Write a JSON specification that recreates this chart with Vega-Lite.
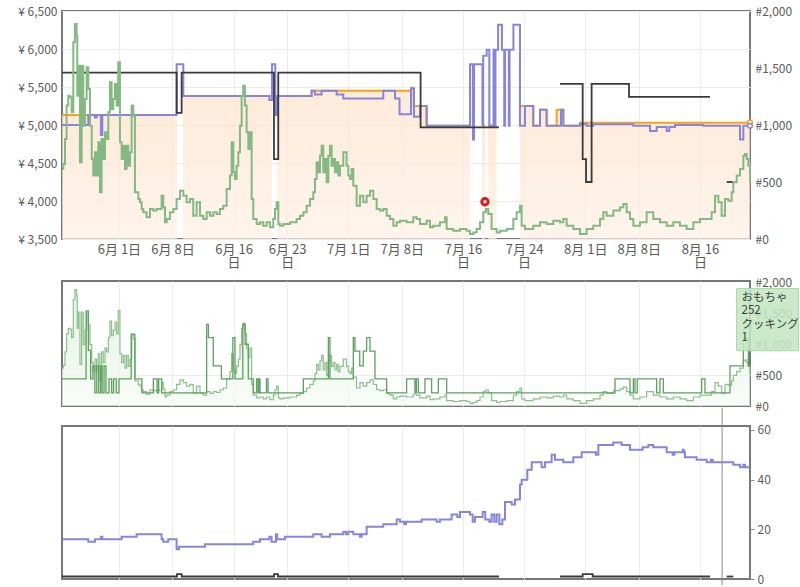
{
"$schema":"https://vega.github.io/schema/vega-lite/v6.json",
"autosize":{"type":"pad"},
"padding":{"left":16,"top":4,"right":0,"bottom":0},
"bounds":"flush",
"spacing":42,
"datasets":{
"amazon":[{"day":-7.45,"price":5130,"seg":1},{"day":7.59,"price":5130,"seg":1},
{"day":8.37,"price":5380,"seg":2},{"day":20.0,"price":5380,"seg":2},
{"day":20.67,"price":5380,"seg":3},{"day":25.2,"price":5450,"seg":3},{"day":38.2,"price":5490,"seg":3},{"day":38.55,"price":5250,"seg":3},{"day":40.25,"price":4990,"seg":3},{"day":45.92,"price":4990,"seg":3},
{"day":47.5,"price":4990,"seg":4},{"day":47.9,"price":4990,"seg":4},
{"day":48.3,"price":4990,"seg":5},{"day":49.4,"price":4990,"seg":5},
{"day":52.46,"price":5250,"seg":6},{"day":54.2,"price":4990,"seg":6},{"day":55.08,"price":5200,"seg":6},{"day":55.95,"price":4990,"seg":6},{"day":57.26,"price":5200,"seg":6},{"day":58.13,"price":4990,"seg":6},{"day":60.31,"price":5030,"seg":6},{"day":82.55,"price":5030,"seg":6}],
"newp":[{"day":-7.45,"price":5000},{"day":-4.01,"price":5130},{"day":-3.14,"price":5100},{"day":-2.92,"price":5130},{"day":-2.36,"price":4870},{"day":-2.18,"price":5130},{"day":7.54,"price":5800},{"day":8.42,"price":5380},{"day":19.67,"price":5330},{"day":20.02,"price":5800},{"day":20.45,"price":5130},{"day":20.71,"price":5380},{"day":25.2,"price":5450},{"day":25.64,"price":5400},{"day":26.51,"price":5450},{"day":28.48,"price":5400},{"day":29.35,"price":5350},{"day":34.58,"price":5450},{"day":36.11,"price":5350},{"day":36.7,"price":5140},{"day":38.2,"price":5480},{"day":38.6,"price":5110},{"day":39.4,"price":5250},{"day":40.25,"price":4990},{"day":45.92,"price":5800},{"day":46.3,"price":4810},{"day":46.45,"price":5800},{"day":47.55,"price":5000},{"day":47.65,"price":5910},{"day":48.1,"price":5990},{"day":48.45,"price":4990},{"day":49.0,"price":5990},{"day":49.15,"price":4990},{"day":49.25,"price":5990},{"day":49.6,"price":6320},{"day":50.1,"price":5990},{"day":50.4,"price":4990},{"day":50.5,"price":5990},{"day":51.0,"price":4990},{"day":51.1,"price":5990},{"day":51.6,"price":6320},{"day":52.46,"price":4990},{"day":53.11,"price":5250},{"day":54.2,"price":4990},{"day":55.08,"price":5200},{"day":55.95,"price":4990},{"day":57.82,"price":5200},{"day":58.13,"price":4990},{"day":60.31,"price":5010},{"day":61.18,"price":4990},{"day":62.05,"price":5010},{"day":67.29,"price":4990},{"day":69.47,"price":4920},{"day":70.34,"price":4975},{"day":71.65,"price":4920},{"day":72.0,"price":4975},{"day":72.74,"price":5000},{"day":76.45,"price":4990},{"day":81.24,"price":4810},{"day":81.68,"price":4990},{"day":82.55,"price":4990}],
"used":[{"day":-7.45,"price":5690,"seg":1},{"day":7.55,"price":5160,"seg":1},{"day":8.2,"price":5690,"seg":1},{"day":20.28,"price":4550,"seg":1},{"day":20.84,"price":5690,"seg":1},{"day":39.46,"price":4970,"seg":1},{"day":49.71,"price":4970,"seg":1},
{"day":57.69,"price":5540,"seg":2},{"day":60.66,"price":4550,"seg":2},{"day":61.1,"price":4250,"seg":2},{"day":61.83,"price":5540,"seg":2},{"day":66.72,"price":5370,"seg":2},{"day":77.32,"price":5370,"seg":2},
{"day":79.5,"price":4250,"seg":3},{"day":80.37,"price":4250,"seg":3}],
"rank":[{"day":-7.45,"rank":614},{"day":-7.28,"rank":658},{"day":-7.06,"rank":877},{"day":-6.85,"rank":1170},{"day":-6.63,"rank":1257},{"day":-6.41,"rank":1243},{"day":-6.19,"rank":1111},{"day":-5.97,"rank":1725},{"day":-5.76,"rank":1886},{"day":-5.54,"rank":1784},{"day":-5.45,"rank":1257},{"day":-5.32,"rank":1520},{"day":-5.1,"rank":673},{"day":-4.88,"rank":1520},{"day":-4.67,"rank":994},{"day":-4.45,"rank":1228},{"day":-4.23,"rank":1506},{"day":-4.01,"rank":1316},{"day":-3.79,"rank":994},{"day":-3.56,"rank":702},{"day":-3.36,"rank":556},{"day":-3.14,"rank":760},{"day":-2.92,"rank":556},{"day":-2.7,"rank":848},{"day":-2.49,"rank":409},{"day":-2.27,"rank":877},{"day":-2.05,"rank":702},{"day":-1.83,"rank":936},{"day":-1.61,"rank":877},{"day":-1.39,"rank":1111},{"day":-1.18,"rank":1374},{"day":-0.96,"rank":1140},{"day":-0.74,"rank":1228},{"day":-0.52,"rank":1360},{"day":-0.3,"rank":1170},{"day":-0.09,"rank":1550},{"day":0.13,"rank":848},{"day":0.35,"rank":702},{"day":0.57,"rank":819},{"day":0.79,"rank":614},{"day":1.0,"rank":819},{"day":1.22,"rank":643},{"day":1.44,"rank":760},{"day":1.66,"rank":1170},{"day":1.88,"rank":1082},{"day":2.09,"rank":409},{"day":2.31,"rank":409},{"day":2.53,"rank":351},{"day":2.75,"rank":322},{"day":2.97,"rank":263},{"day":3.18,"rank":234},{"day":3.62,"rank":190},{"day":4.06,"rank":263},{"day":4.49,"rank":249},{"day":4.93,"rank":263},{"day":5.36,"rank":263},{"day":5.58,"rank":380},{"day":5.8,"rank":278},{"day":6.02,"rank":146},{"day":6.24,"rank":175},{"day":6.67,"rank":234},{"day":7.11,"rank":263},{"day":7.54,"rank":351},{"day":7.98,"rank":424},{"day":8.42,"rank":380},{"day":8.85,"rank":322},{"day":9.29,"rank":351},{"day":9.72,"rank":205},{"day":10.16,"rank":322},{"day":10.6,"rank":205},{"day":11.03,"rank":175},{"day":11.47,"rank":234},{"day":11.91,"rank":205},{"day":12.34,"rank":234},{"day":12.78,"rank":219},{"day":13.21,"rank":263},{"day":13.65,"rank":292},{"day":14.09,"rank":439},{"day":14.52,"rank":556},{"day":14.74,"rank":848},{"day":14.96,"rank":585},{"day":15.18,"rank":526},{"day":15.39,"rank":643},{"day":15.61,"rank":760},{"day":15.83,"rank":994},{"day":16.05,"rank":1257},{"day":16.26,"rank":1345},{"day":16.48,"rank":1170},{"day":16.7,"rank":936},{"day":16.92,"rank":789},{"day":17.14,"rank":936},{"day":17.36,"rank":351},{"day":17.57,"rank":175},{"day":18.01,"rank":132},{"day":18.45,"rank":146},{"day":18.88,"rank":117},{"day":19.32,"rank":146},{"day":19.75,"rank":102},{"day":20.19,"rank":175},{"day":20.41,"rank":263},{"day":20.63,"rank":322},{"day":20.85,"rank":132},{"day":21.06,"rank":117},{"day":21.5,"rank":132},{"day":22.37,"rank":146},{"day":23.24,"rank":175},{"day":23.68,"rank":205},{"day":24.12,"rank":234},{"day":24.55,"rank":292},{"day":24.99,"rank":351},{"day":25.42,"rank":409},{"day":25.64,"rank":526},{"day":25.86,"rank":673},{"day":26.08,"rank":585},{"day":26.3,"rank":731},{"day":26.51,"rank":819},{"day":26.73,"rank":585},{"day":26.95,"rank":702},{"day":27.17,"rank":497},{"day":27.39,"rank":731},{"day":27.6,"rank":819},{"day":27.82,"rank":643},{"day":28.04,"rank":702},{"day":28.26,"rank":585},{"day":28.48,"rank":673},{"day":28.69,"rank":556},{"day":28.91,"rank":643},{"day":29.35,"rank":760},{"day":29.57,"rank":760},{"day":29.78,"rank":643},{"day":30.0,"rank":556},{"day":30.22,"rank":526},{"day":30.44,"rank":614},{"day":30.66,"rank":468},{"day":31.09,"rank":292},{"day":31.53,"rank":380},{"day":31.96,"rank":322},{"day":32.4,"rank":380},{"day":32.84,"rank":424},{"day":33.27,"rank":351},{"day":33.71,"rank":263},{"day":34.14,"rank":249},{"day":34.58,"rank":263},{"day":35.02,"rank":205},{"day":35.45,"rank":175},{"day":35.89,"rank":117},{"day":36.33,"rank":146},{"day":36.76,"rank":161},{"day":37.63,"rank":146},{"day":38.5,"rank":190},{"day":38.94,"rank":175},{"day":39.38,"rank":132},{"day":40.25,"rank":161},{"day":40.69,"rank":102},{"day":41.12,"rank":117},{"day":41.99,"rank":146},{"day":42.65,"rank":190},{"day":42.87,"rank":88},{"day":43.74,"rank":73},{"day":44.61,"rank":88},{"day":45.48,"rank":73},{"day":45.92,"rank":44},{"day":46.35,"rank":58},{"day":46.79,"rank":88},{"day":47.23,"rank":146},{"day":47.66,"rank":234},{"day":48.01,"rank":263},{"day":48.32,"rank":219},{"day":48.75,"rank":88},{"day":49.41,"rank":58},{"day":49.84,"rank":73},{"day":50.72,"rank":88},{"day":51.59,"rank":175},{"day":52.02,"rank":234},{"day":52.46,"rank":292},{"day":52.68,"rank":117},{"day":53.11,"rank":88},{"day":53.77,"rank":88},{"day":54.2,"rank":117},{"day":55.08,"rank":146},{"day":55.95,"rank":132},{"day":56.82,"rank":161},{"day":57.69,"rank":146},{"day":58.13,"rank":175},{"day":58.57,"rank":117},{"day":59.44,"rank":88},{"day":60.31,"rank":44},{"day":61.18,"rank":88},{"day":62.05,"rank":117},{"day":62.93,"rank":175},{"day":63.36,"rank":234},{"day":63.8,"rank":205},{"day":64.67,"rank":249},{"day":65.54,"rank":278},{"day":65.98,"rank":307},{"day":66.41,"rank":234},{"day":66.85,"rank":175},{"day":67.29,"rank":117},{"day":68.16,"rank":146},{"day":69.03,"rank":234},{"day":69.9,"rank":175},{"day":70.77,"rank":146},{"day":71.65,"rank":117},{"day":72.52,"rank":146},{"day":73.39,"rank":117},{"day":74.26,"rank":88},{"day":75.14,"rank":146},{"day":76.01,"rank":175},{"day":76.88,"rank":175},{"day":77.53,"rank":234},{"day":77.97,"rank":380},{"day":78.41,"rank":322},{"day":78.84,"rank":205},{"day":79.28,"rank":351},{"day":79.71,"rank":336},{"day":80.15,"rank":409},{"day":80.37,"rank":497},{"day":80.81,"rank":556},{"day":81.24,"rank":614},{"day":81.68,"rank":731},{"day":81.9,"rank":746},{"day":82.12,"rank":702},{"day":82.33,"rank":643},{"day":82.55,"rank":497}],
"cook":[{"day":-7.45,"rank":440},{"day":-4.3,"rank":1540},{"day":-4.0,"rank":900},{"day":-3.7,"rank":440},{"day":-3.4,"rank":650},{"day":-3.15,"rank":214},{"day":-2.9,"rank":650},{"day":-2.65,"rank":214},{"day":-2.4,"rank":650},{"day":-2.2,"rank":214},{"day":-1.95,"rank":650},{"day":-1.7,"rank":214},{"day":-1.3,"rank":440},{"day":-0.95,"rank":214},{"day":-0.7,"rank":440},{"day":-0.35,"rank":214},{"day":0.0,"rank":440},{"day":1.6,"rank":1160},{"day":2.09,"rank":440},{"day":3.0,"rank":214},{"day":4.5,"rank":440},{"day":5.0,"rank":214},{"day":5.2,"rank":440},{"day":5.6,"rank":214},{"day":11.47,"rank":1323},{"day":11.7,"rank":1108},{"day":12.34,"rank":650},{"day":13.4,"rank":440},{"day":14.9,"rank":1108},{"day":15.18,"rank":440},{"day":16.2,"rank":1323},{"day":16.5,"rank":1000},{"day":16.92,"rank":440},{"day":17.57,"rank":214},{"day":18.0,"rank":440},{"day":18.2,"rank":214},{"day":18.3,"rank":440},{"day":18.45,"rank":214},{"day":19.3,"rank":440},{"day":19.5,"rank":214},{"day":24.12,"rank":440},{"day":27.39,"rank":1108},{"day":27.6,"rank":440},{"day":30.66,"rank":1108},{"day":30.87,"rank":890},{"day":31.5,"rank":650},{"day":31.96,"rank":890},{"day":32.4,"rank":1108},{"day":32.84,"rank":890},{"day":33.49,"rank":440},{"day":35.02,"rank":214},{"day":37.63,"rank":440},{"day":38.72,"rank":214},{"day":38.9,"rank":440},{"day":39.16,"rank":214},{"day":40.03,"rank":440},{"day":40.9,"rank":214},{"day":41.78,"rank":440},{"day":42.87,"rank":214},{"day":64.89,"rank":440},{"day":66.85,"rank":214},{"day":67.29,"rank":440},{"day":67.5,"rank":214},{"day":67.8,"rank":440},{"day":70.34,"rank":214},{"day":70.77,"rank":440},{"day":71.21,"rank":214},{"day":76.23,"rank":440},{"day":76.66,"rank":214},{"day":79.93,"rank":650},{"day":81.68,"rank":1100},{"day":82.33,"rank":650},{"day":82.55,"rank":650}],
"offers":[{"day":-7.45,"count":16},{"day":-4.01,"count":15},{"day":-3.14,"count":16},{"day":-2.36,"count":17},{"day":-2.18,"count":16},{"day":0.35,"count":17},{"day":2.31,"count":18},{"day":5.58,"count":16},{"day":5.8,"count":15},{"day":6.45,"count":16},{"day":7.54,"count":12},{"day":7.85,"count":13},{"day":11.25,"count":14},{"day":17.57,"count":15},{"day":18.45,"count":16},{"day":19.67,"count":17},{"day":19.97,"count":15},{"day":20.54,"count":18},{"day":20.7,"count":16},{"day":21.72,"count":17},{"day":25.42,"count":18},{"day":26.51,"count":17},{"day":27.6,"count":18},{"day":29.35,"count":19},{"day":29.7,"count":18},{"day":30.0,"count":19},{"day":30.66,"count":18},{"day":31.53,"count":17},{"day":31.75,"count":18},{"day":32.4,"count":21},{"day":34.58,"count":22},{"day":36.33,"count":24},{"day":36.76,"count":23},{"day":37.33,"count":22},{"day":37.55,"count":23},{"day":39.6,"count":24},{"day":41.56,"count":23},{"day":42.0,"count":24},{"day":43.52,"count":26},{"day":44.26,"count":25},{"day":44.61,"count":27},{"day":45.92,"count":26},{"day":46.27,"count":23},{"day":46.57,"count":25},{"day":47.58,"count":27},{"day":47.92,"count":24},{"day":48.45,"count":23},{"day":48.75,"count":26},{"day":49.1,"count":23},{"day":49.41,"count":26},{"day":49.76,"count":22},{"day":50.15,"count":24},{"day":50.5,"count":31},{"day":51.37,"count":30},{"day":51.81,"count":32},{"day":52.46,"count":38},{"day":52.68,"count":40},{"day":53.42,"count":44},{"day":53.99,"count":47},{"day":55.29,"count":45},{"day":55.73,"count":47},{"day":56.6,"count":50},{"day":57.04,"count":48},{"day":58.13,"count":47},{"day":59.44,"count":49},{"day":60.53,"count":51},{"day":62.4,"count":50},{"day":62.71,"count":54},{"day":64.67,"count":55},{"day":65.76,"count":54},{"day":66.85,"count":52},{"day":68.51,"count":53},{"day":69.25,"count":54},{"day":69.9,"count":53},{"day":71.65,"count":51},{"day":72.43,"count":50},{"day":72.65,"count":51},{"day":73.74,"count":52},{"day":73.9,"count":51},{"day":74.04,"count":49},{"day":75.57,"count":48},{"day":76.88,"count":47},{"day":77.45,"count":48},{"day":77.67,"count":47},{"day":80.37,"count":46},{"day":81.24,"count":45},{"day":81.68,"count":46},{"day":81.9,"count":45},{"day":82.55,"count":45}],
"usedc":[{"day":-7.45,"count":1,"seg":1},{"day":7.6,"count":2,"seg":1},{"day":8.2,"count":1,"seg":1},{"day":20.3,"count":2,"seg":1},{"day":20.8,"count":1,"seg":1},{"day":49.71,"count":1,"seg":1},
{"day":57.69,"count":1,"seg":2},{"day":60.66,"count":2,"seg":2},{"day":61.97,"count":1,"seg":2},{"day":77.32,"count":1,"seg":2},
{"day":79.5,"count":1,"seg":3},{"day":80.37,"count":1,"seg":3}]
},
"vconcat":[
{
"width":688,"height":228,
"encoding":{"x":{"field":"day","type":"quantitative","scale":{"domain":[-7.45,82.55],"nice":false,"zero":false},
"axis":{"values":[0,7,15,22,30,37,45,53,61,68,76],"tickCount":40,"grid":true,"title":null,"labelBaseline":"top","labelPadding":4,"labelLineHeight":13,"labelOverlap":false,"labelFlush":false,
"labelExpr":"['6月 1日','6月 8日',['6月 16','日'],['6月 23','日'],'7月 1日','7月 8日',['7月 16','日'],['7月 24','日'],'8月 1日','8月 8日',['8月 16','日']][indexof([0,7,15,22,30,37,45,53,61,68,76], datum.value)]"}}},
"layer":[
{"layer":[
{"data":{"name":"amazon"},
"mark":{"type":"area","interpolate":"step-after","fill":{"gradient":"linear","x1":0,"y1":0,"x2":0,"y2":1,"stops":[{"offset":0,"color":"#fde2c9"},{"offset":1,"color":"#fef0e4"}]},"line":{"color":"#f9a11b","strokeWidth":2}},
"encoding":{"y":{"field":"price","type":"quantitative","scale":{"domain":[3500,6500],"nice":false,"zero":false},
"axis":{"orient":"left","values":[3500,4000,4500,5000,5500,6000,6500],"tickCount":20,"grid":true,"title":null,"labelPadding":5,"labelFontSize":12,"labelOverlap":false,"labelExpr":"'¥ ' + format(datum.value, ',')"}},
"y2":{"datum":3500},"detail":{"field":"seg","type":"nominal"}}},
{"data":{"name":"newp"},"mark":{"type":"line","interpolate":"step-after","color":"#8585dd","strokeWidth":2},
"encoding":{"y":{"field":"price","type":"quantitative"}}},
{"data":{"name":"used"},"mark":{"type":"line","interpolate":"step-after","color":"#3a3a3a","strokeWidth":1.8},
"encoding":{"y":{"field":"price","type":"quantitative"},"detail":{"field":"seg","type":"nominal"}}},
{"data":{"values":[{"day":47.88,"price":3990}]},"mark":{"type":"point","shape":"circle","size":40,"filled":true,"fill":"#ffffff","stroke":"#e8141b","strokeWidth":3,"opacity":1},
"encoding":{"y":{"field":"price","type":"quantitative"}}},
{"data":{"values":[{"day":82.55,"price":5035,"s":"a"},{"day":82.55,"price":4990,"s":"n"}]},"mark":{"type":"point","shape":"circle","size":22,"filled":true,"fill":"#ffffff","strokeWidth":1.5,"opacity":1},
"encoding":{"y":{"field":"price","type":"quantitative"},"stroke":{"field":"s","type":"nominal","scale":{"domain":["a","n"],"range":["#f9a11b","#8585dd"]},"legend":null}}}
]},
{"layer":[
{"data":{"name":"rank"},"mark":{"type":"line","interpolate":"step-after","color":"#84b984","strokeWidth":2},
"encoding":{"y":{"field":"rank","type":"quantitative","scale":{"domain":[0,2000],"nice":false},
"axis":{"orient":"right","values":[0,500,1000,1500,2000],"tickCount":20,"grid":false,"title":null,"labelPadding":5,"labelFontSize":12,"labelOverlap":false,"labelExpr":"'#' + format(datum.value, ',')"}}}}
]}
],
"resolve":{"scale":{"y":"independent"}}
},
{
"bounds":"flush","spacing":20,
"vconcat":[
{
"width":688,"height":125,
"encoding":{"x":{"field":"day","type":"quantitative","scale":{"domain":[-7.45,82.55],"nice":false,"zero":false},
"axis":{"values":[0,7,15,22,30,37,45,53,61,68,76],"tickCount":40,"grid":true,"labels":false,"title":null}}},
"layer":[
{"data":{"name":"rank"},
"mark":{"type":"area","interpolate":"step-after","fill":{"gradient":"linear","x1":0,"y1":0,"x2":0,"y2":1,"stops":[{"offset":0,"color":"#d5ecd5"},{"offset":1,"color":"#f6fbf6"}]},"line":{"color":"#8cc08c","strokeWidth":1.2}},
"encoding":{"y":{"field":"rank","type":"quantitative","scale":{"domain":[0,2025],"nice":false},
"axis":{"orient":"right","values":[0,500,1000,1500,2000],"tickCount":20,"grid":true,"gridOpacity":{"condition":{"test":"datum.value == 500","value":1},"value":0},"title":null,"labelPadding":5,"labelFontSize":12,"labelOverlap":false,"labelExpr":"'#' + format(datum.value, ',')"}}}},
{"data":{"name":"cook"},"mark":{"type":"line","interpolate":"step-after","color":"#5f9f5f","strokeWidth":1.3},
"encoding":{"y":{"field":"rank","type":"quantitative"}}},
{"data":{"values":[{"day":80.8,"day2":88.9,"rank":1905,"rank2":895}]},"mark":{"type":"rect","fill":"#c3e7c3","fillOpacity":0.88,"stroke":"#a9d7a9","strokeWidth":1},
"encoding":{"x2":{"field":"day2"},"y":{"field":"rank","type":"quantitative"},"y2":{"field":"rank2"}}},
{"data":{"values":[{"day":81.45,"rank":1755,"t":"おもちゃ"},{"day":81.45,"rank":1535,"t":"252"},{"day":81.45,"rank":1320,"t":"クッキングト"},{"day":81.45,"rank":1095,"t":"1"}]},
"mark":{"type":"text","align":"left","baseline":"middle","fontSize":11.5,"color":"#3c3c3c","font":"Noto Sans CJK JP"},
"encoding":{"y":{"field":"rank","type":"quantitative"},"text":{"field":"t","type":"nominal"}}}
]
},
{
"width":688,"height":153,
"encoding":{"x":{"field":"day","type":"quantitative","scale":{"domain":[-7.45,82.55],"nice":false,"zero":false},
"axis":{"values":[0,7,15,22,30,37,45,53,61,68,76],"tickCount":40,"grid":true,"labels":false,"title":null}}},
"layer":[
{"data":{"name":"offers"},"mark":{"type":"line","interpolate":"step-after","color":"#8585dd","strokeWidth":2},
"encoding":{"y":{"field":"count","type":"quantitative","scale":{"domain":[0,61.6],"nice":false},
"axis":{"orient":"right","values":[0,20,40,60],"tickCount":20,"grid":false,"ticks":true,"tickSize":4,"tickColor":"#888888","title":null,"labelPadding":3,"labelFontSize":12,"labelOverlap":false}}}},
{"data":{"name":"usedc"},"mark":{"type":"line","interpolate":"step-after","color":"#3a3a3a","strokeWidth":1.8},
"encoding":{"y":{"field":"count","type":"quantitative"},"detail":{"field":"seg","type":"nominal"}}},
{"data":{"values":[{"day":78.9,"count":69,"count2":-2.5}]},"mark":{"type":"rule","color":"#8a8a8a","strokeWidth":1},
"encoding":{"y":{"field":"count","type":"quantitative"},"y2":{"field":"count2"}}}
]
}
]
}
],
"config":{
"font":"Noto Sans CJK JP",
"view":{"stroke":"#777777","strokeWidth":2},
"axis":{"labelFont":"Noto Sans CJK JP","labelFontSize":13,"labelColor":"#5a5a5a","domain":false,"ticks":false,"gridColor":"#ececec","gridWidth":1,"labelOverlap":false}
}
}
